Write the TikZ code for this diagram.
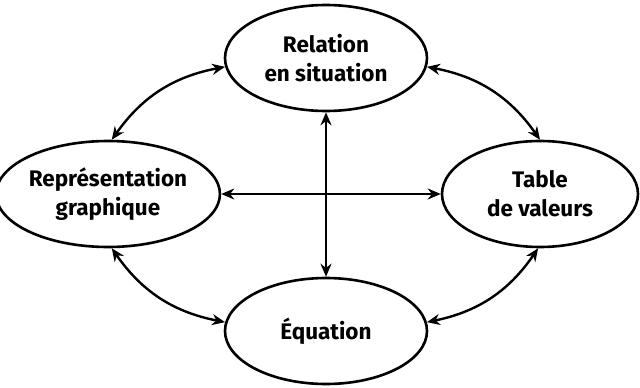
\documentclass[tikz,border=0pt]{standalone}
\usepackage{fontspec}
\setmainfont{Fira Sans}
\usetikzlibrary{arrows.meta,shapes.geometric}
\begin{document}
\begin{tikzpicture}[x=1pt,y=-1pt,
  oval/.style={draw=black,line width=2.6pt,ellipse,inner sep=0pt,
    minimum width=202pt,minimum height=106pt,align=center,
    font=\fontsize{22.5}{29}\selectfont\bfseries},
  conn/.style={line width=2.4pt,{Stealth[length=13pt,width=11pt]}-{Stealth[length=13pt,width=11pt]}}]
\useasboundingbox (0,0) rectangle (640,388);
\node[oval] (top) at (326,58) {Relation\\en situation};
\node[oval] (left) at (108,194) {Représentation\\graphique};
\node[oval,minimum width=196pt] (right) at (540,194) {Table\\de valeurs};
\node[oval] (bot) at (326,331) {Équation};
\draw[conn] (top.south) -- (bot.north);
\draw[conn] (left.east) -- (right.west);
\draw[conn] (top.185) to[bend right=22] (left.86);
\draw[conn] (top.355) to[bend left=22] (right.90);
\draw[conn] (left.274) to[bend right=22] (bot.175);
\draw[conn] (right.268) to[bend left=22] (bot.5);
\end{tikzpicture}
\end{document}
